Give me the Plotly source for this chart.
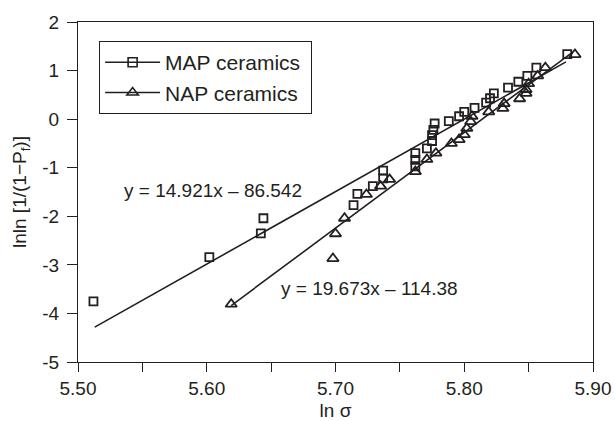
import plotly.graph_objects as go

# ---- data ----
map_x = [5.512, 5.602, 5.642, 5.644, 5.714, 5.717, 5.729, 5.737, 5.737, 5.762,
         5.762, 5.762, 5.771, 5.775, 5.775, 5.776, 5.777, 5.788, 5.796, 5.800,
         5.808, 5.817, 5.820, 5.823, 5.834, 5.842, 5.849, 5.856, 5.880]
map_y = [-3.75, -2.84, -2.35, -2.04, -1.77, -1.54, -1.38, -1.22, -1.06, -0.97,
         -0.84, -0.70, -0.60, -0.45, -0.33, -0.22, -0.09, -0.04, 0.06, 0.15,
         0.23, 0.34, 0.43, 0.53, 0.65, 0.77, 0.89, 1.06, 1.34]

nap_x = [5.619, 5.698, 5.700, 5.707, 5.724, 5.735, 5.742, 5.762, 5.771, 5.778,
         5.790, 5.796, 5.800, 5.802, 5.805, 5.806, 5.819, 5.830, 5.831, 5.843,
         5.848, 5.848, 5.850, 5.857, 5.863, 5.886]
nap_y = [-3.81, -2.87, -2.36, -2.04, -1.55, -1.38, -1.24, -1.08, -0.83, -0.70,
         -0.50, -0.42, -0.32, -0.19, -0.05, 0.06, 0.15, 0.22, 0.32, 0.42,
         0.53, 0.61, 0.73, 0.89, 1.06, 1.33]

map_fit = (14.921, -86.542)
nap_fit = (19.673, -114.38)
map_fit_range = [5.513, 5.879]
nap_fit_range = [5.619, 5.884]

y_ticks = [2, 1, 0, -1, -2, -3, -4, -5]
y_tick_text = ["2", "1", "0", "-1", "-2", "-3", "-4", "-5"]

ink = "#231f20"
font = "Liberation Sans, Arial, Helvetica, sans-serif"

fig = go.Figure()

def fit_line(rng, coef):
    return [coef[0] * v + coef[1] for v in rng]

fig.add_trace(go.Scatter(x=map_fit_range, y=fit_line(map_fit_range, map_fit), mode="lines",
                         line=dict(color=ink, width=1.6), showlegend=False, hoverinfo="skip"))
fig.add_trace(go.Scatter(x=nap_fit_range, y=fit_line(nap_fit_range, nap_fit), mode="lines",
                         line=dict(color=ink, width=1.6), showlegend=False, hoverinfo="skip"))

fig.add_trace(go.Scatter(x=map_x, y=map_y, mode="markers", showlegend=False,
                         marker=dict(symbol="square-open", size=8, color=ink, line=dict(width=1.8))))
fig.add_trace(go.Scatter(x=nap_x, y=nap_y, mode="markers", showlegend=False,
                         marker=dict(symbol="triangle-up-open", size=10, color=ink, line=dict(width=1.8))))

# legend entries
fig.add_trace(go.Scatter(x=[None], y=[None], mode="lines+markers", name="MAP ceramics&nbsp;",
                         line=dict(color=ink, width=1.6),
                         marker=dict(symbol="square-open", size=9, color=ink, line=dict(width=1.6))))
fig.add_trace(go.Scatter(x=[None], y=[None], mode="lines+markers", name="NAP ceramics&nbsp;",
                         line=dict(color=ink, width=1.6),
                         marker=dict(symbol="triangle-up-open", size=10, color=ink, line=dict(width=1.6))))

fig.add_annotation(x=5.6045, y=-1.46, xref="x", yref="y", showarrow=False,
                   text="y = 14.921x \u2013 86.542", font=dict(size=19, color=ink, family=font))
fig.add_annotation(x=5.7265, y=-3.48, xref="x", yref="y", showarrow=False,
                   text="y = 19.673x \u2013 114.38", font=dict(size=19, color=ink, family=font))

fig.update_layout(
    width=615, height=421,
    margin=dict(l=78, r=22, t=22, b=59),
    paper_bgcolor="white", plot_bgcolor="white",
    font=dict(family=font, color=ink, size=19),
    legend=dict(x=0.041, y=0.944, xanchor="left", yanchor="top",
                bordercolor=ink, borderwidth=1, bgcolor="white",
                font=dict(size=21, color=ink, family=font), itemwidth=55,
                tracegroupgap=0),
)
fig.update_xaxes(range=[5.50, 5.90], dtick=0.1, tick0=5.5, tickformat=".2f",
                 automargin=False,
                 showline=True, linecolor=ink, linewidth=1.2, mirror=True,
                 ticks="outside", ticklen=9, tickcolor=ink, tickwidth=1.2,
                 minor=dict(dtick=0.05, ticks="outside", ticklen=9, tickcolor=ink, tickwidth=1.2),
                 showgrid=False, zeroline=False,
                 tickfont=dict(size=19, color=ink, family=font),
                 title=dict(text="ln \u03c3", font=dict(size=19, color=ink, family=font), standoff=6))
fig.update_yaxes(range=[-5, 2], tickvals=y_ticks, ticktext=y_tick_text,
                 automargin=False,
                 showline=True, linecolor=ink, linewidth=1.2, mirror=True,
                 ticks="outside", ticklen=10, tickcolor=ink, tickwidth=1.2,
                 ticklabelstandoff=4,
                 showgrid=False, zeroline=False,
                 tickfont=dict(size=19, color=ink, family=font),
                 title=dict(text="lnln [1/(1\u2212P<sub>f</sub>)]",
                            font=dict(size=19, color=ink, family=font), standoff=10))

fig.write_html("out.html", config={"displayModeBar": False},
               post_script="document.body.style.margin='0';")
